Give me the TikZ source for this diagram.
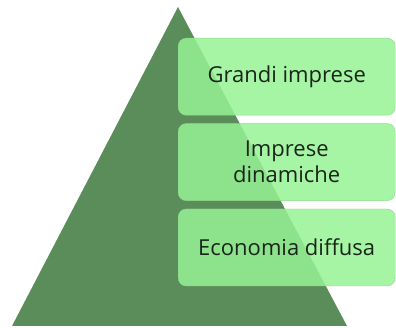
\documentclass[tikz,border=0pt]{standalone}
\usepackage{fontspec}
\setmainfont{Open Sans}
\usetikzlibrary{positioning}

\definecolor{pyramidgreen}{HTML}{5B8D5A}
\definecolor{tierfill}{HTML}{96F394}
\definecolor{tierline}{HTML}{8ED88B}
\definecolor{tiertext}{HTML}{1A261A}

\begin{document}
\begin{tikzpicture}[x=1pt, y=-1pt,
    tier/.style={draw=tierline, fill=tierfill, fill opacity=0.85, text opacity=1,
      rounded corners=8pt, minimum width=217pt, minimum height=77pt,
      align=center, text=tiertext, font=\fontsize{22}{26}\selectfont, anchor=north west}
  ]
    \useasboundingbox (0,0) rectangle (396,328);

    % the pyramid behind the tiers
    \coordinate (apex) at (178,7);
    \coordinate (baseL) at (12,326);
    \coordinate (baseR) at (347,326);
    \fill[pyramidgreen] (apex) -- (baseR) -- (baseL) -- cycle;

    \node[tier] (grandi) at (178,38) {Grandi imprese};
    \node[tier, below=8pt of grandi.south west, anchor=north west] (dinamiche) {Imprese\\dinamiche};
    \node[tier, below=8pt of dinamiche.south west, anchor=north west] (diffusa) {Economia diffusa};
\end{tikzpicture}
\end{document}
